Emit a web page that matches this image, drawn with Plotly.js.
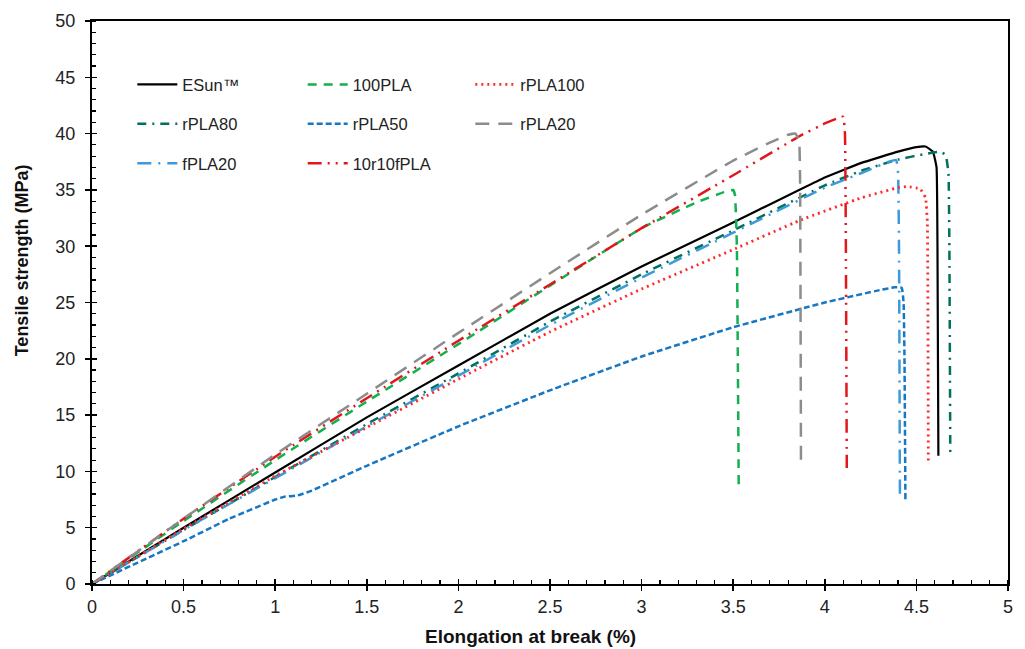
<!DOCTYPE html>
<html>
<head>
<meta charset="utf-8">
<script src="https://cdn.plot.ly/plotly-3.0.1.min.js"></script>
<style>html,body{margin:0;padding:0;background:#fff;}#chart{width:1025px;height:649px;}</style>
</head>
<body>
<div id="chart"></div>
<script>
// ---- data ----
const esunX = [0, 0.5, 1, 1.5, 2, 2.5, 3, 3.5, 4, 4.2, 4.4, 4.5, 4.55, 4.59, 4.61, 4.615, 4.62];
const esunY = [0, 5.0, 9.9, 14.8, 19.4, 24.0, 28.2, 32.1, 36.1, 37.4, 38.4, 38.8, 38.85, 38.4, 37.0, 30.0, 11.4];

const pla100X = [0, 0.5, 1, 1.5, 2, 2.5, 3, 3.3, 3.45, 3.5, 3.51, 3.52, 3.53];
const pla100Y = [0, 5.6, 11.0, 16.2, 21.3, 26.5, 31.6, 33.9, 34.8, 35.0, 34.5, 30.0, 8.8];

const rpla100X = [0, 0.5, 1, 1.5, 2, 2.5, 3, 3.5, 3.865, 4.2, 4.4, 4.45, 4.52, 4.55, 4.56, 4.565];
const rpla100Y = [0, 4.9, 9.6, 13.9, 18.2, 22.4, 26.2, 29.7, 32.3, 34.3, 35.2, 35.3, 35.1, 34.3, 32.0, 10.8];

const rpla80X = [0, 0.5, 1, 1.5, 2, 2.5, 3, 3.5, 4, 4.2, 4.4, 4.55, 4.63, 4.66, 4.675, 4.68, 4.685];
const rpla80Y = [0, 4.8, 9.5, 14.2, 18.7, 23.3, 27.5, 31.4, 35.4, 36.7, 37.7, 38.2, 38.4, 38.1, 36.5, 30.0, 11.3];

const rpla50X = [0, 0.25, 0.5, 0.75, 1.0, 1.05, 1.12, 1.2, 1.5, 2, 2.5, 3, 3.5, 4, 4.3, 4.38, 4.42, 4.43, 4.435, 4.44];
const rpla50Y = [0, 1.9, 3.8, 5.8, 7.5, 7.75, 7.85, 8.3, 10.5, 14.0, 17.2, 20.2, 22.8, 25.0, 26.1, 26.35, 26.3, 25.0, 20.0, 7.5];

const rpla20X = [0, 0.5, 1, 1.5, 2, 2.5, 3, 3.5, 3.7, 3.8, 3.84, 3.86, 3.865, 3.87];
const rpla20Y = [0, 5.8, 11.5, 16.9, 22.3, 27.6, 32.8, 37.6, 39.2, 39.9, 40.0, 39.3, 36.0, 10.3];

const fpla20X = [0, 0.5, 1, 1.5, 2, 2.5, 3, 3.5, 4, 4.2, 4.35, 4.39, 4.4, 4.405, 4.41];
const fpla20Y = [0, 4.8, 9.4, 14.0, 18.5, 23.0, 27.2, 31.2, 35.2, 36.5, 37.5, 37.65, 36.5, 30.0, 8.0];

const r10fX = [0, 0.5, 1, 1.5, 2, 2.5, 3, 3.5, 3.865, 4.0, 4.1, 4.11, 4.115, 4.12];
const r10fY = [0, 5.8, 11.3, 16.5, 21.6, 26.6, 31.6, 36.3, 39.8, 40.9, 41.5, 40.0, 30.0, 10.3];

const seriesNames = ['ESun™', '100PLA', 'rPLA100', 'rPLA80', 'rPLA50', 'rPLA20', 'fPLA20', '10r10fPLA'];
const xTickVals = [0, 0.5, 1, 1.5, 2, 2.5, 3, 3.5, 4, 4.5, 5];
const xTickText = ['0', '0.5', '1', '1.5', '2', '2.5', '3', '3.5', '4', '4.5', '5'];
const yTickVals = [0, 5, 10, 15, 20, 25, 30, 35, 40, 45, 50];
const xTitle = 'Elongation at break (%)';
const yTitle = 'Tensile strength (MPa)';

// ---- traces ----
function tr(x, y, name, color, dash, width, legend, group) {
  return {x: x, y: y, name: name, type: 'scatter', mode: 'lines',
          line: {color: color, dash: dash, width: width, shape: 'spline', smoothing: 0.3},
          legend: legend, legendgroup: group, showlegend: true};
}
const traces = [
  tr(esunX, esunY, seriesNames[0], '#000000', 'solid', 2.2, 'legend', 'a'),
  tr(rpla80X, rpla80Y, seriesNames[3], '#00705f', '9px,6px,2px,6px', 2.5, 'legend', 'b'),
  tr(fpla20X, fpla20Y, seriesNames[6], '#3d9ad8', '14px,7px,2px,7px', 2.5, 'legend', 'c'),
  tr(pla100X, pla100Y, seriesNames[1], '#12b04e', '9px,7px', 2.5, 'legend2', 'a'),
  tr(rpla50X, rpla50Y, seriesNames[4], '#1677c4', '6px,3px', 2.5, 'legend2', 'b'),
  tr(r10fX, r10fY, seriesNames[7], '#e0181c', '14px,6px,2px,6px,2px,6px', 2.5, 'legend2', 'c'),
  tr(rpla100X, rpla100Y, seriesNames[2], '#ff2a2a', '2px,4px', 2.8, 'legend3', 'a'),
  tr(rpla20X, rpla20Y, seriesNames[5], '#8c8c8c', '14px,9px', 2.5, 'legend3', 'b')
];
// overlay axes carrying the inner half of the crossing major ticks
traces.push({x: [0], y: [0], xaxis: 'x2', yaxis: 'y2', mode: 'markers', marker: {opacity: 0}, showlegend: false, hoverinfo: 'skip'});

const font = 'Liberation Sans, Arial, sans-serif';
const legendBase = {
  bgcolor: 'rgba(0,0,0,0)', borderwidth: 0, yanchor: 'top', y: 0.918,
  font: {family: font, size: 16.5, color: '#222'}, tracegroupgap: 15, itemwidth: 40
};

const layout = {
  width: 1025, height: 649,
  margin: {l: 92, r: 17, t: 21, b: 65},
  paper_bgcolor: '#ffffff', plot_bgcolor: '#ffffff',
  font: {family: font, size: 18, color: '#222'},
  legend: Object.assign({}, legendBase, {x: 0.044}),
  legend2: Object.assign({}, legendBase, {x: 0.230}),
  legend3: Object.assign({}, legendBase, {x: 0.413}),
  xaxis: {
    range: [0, 5], tickvals: xTickVals, ticktext: xTickText,
    showgrid: false, zeroline: false, showline: true, linecolor: '#000', linewidth: 2, mirror: true,
    ticks: 'outside', ticklen: 5, tickwidth: 1.5, tickcolor: '#000',
    minor: {dtick: 0.1, ticks: 'inside', ticklen: 4, tickwidth: 1.2, tickcolor: '#000', showgrid: false},
    tickfont: {family: font, size: 18, color: '#222'}
  },
  yaxis: {
    range: [0, 50], tickvals: yTickVals,
    showgrid: false, zeroline: false, showline: true, linecolor: '#000', linewidth: 2, mirror: true,
    ticks: 'outside', ticklen: 5, tickwidth: 1.5, tickcolor: '#000', ticklabelstandoff: 6,
    minor: {dtick: 1, ticks: 'inside', ticklen: 4, tickwidth: 1.2, tickcolor: '#000', showgrid: false},
    tickfont: {family: font, size: 18, color: '#222'}
  },
  xaxis2: {overlaying: 'x', range: [0, 5], tickvals: xTickVals, showticklabels: false, showgrid: false, zeroline: false,
           ticks: 'inside', ticklen: 5, tickwidth: 1.5, tickcolor: '#000', showline: false, anchor: 'y2', side: 'bottom'},
  yaxis2: {overlaying: 'y', range: [0, 50], tickvals: yTickVals, showticklabels: false, showgrid: false, zeroline: false,
           ticks: 'inside', ticklen: 5, tickwidth: 1.5, tickcolor: '#000', showline: false, anchor: 'x2', side: 'left'},
  annotations: [
    {text: '<b>' + xTitle + '</b>', xref: 'paper', yref: 'paper', x: 0.479, y: -0.0925,
     xanchor: 'center', yanchor: 'middle', showarrow: false, font: {family: font, size: 19, color: '#111'}},
    {text: '<b>' + yTitle + '</b>', xref: 'paper', yref: 'paper', x: -0.0764, y: 0.575, textangle: -90,
     xanchor: 'center', yanchor: 'middle', showarrow: false, font: {family: font, size: 18, color: '#111'}}
  ]
};

Plotly.newPlot('chart', traces, layout, {displayModeBar: false, staticPlot: true});
</script>
</body>
</html>
